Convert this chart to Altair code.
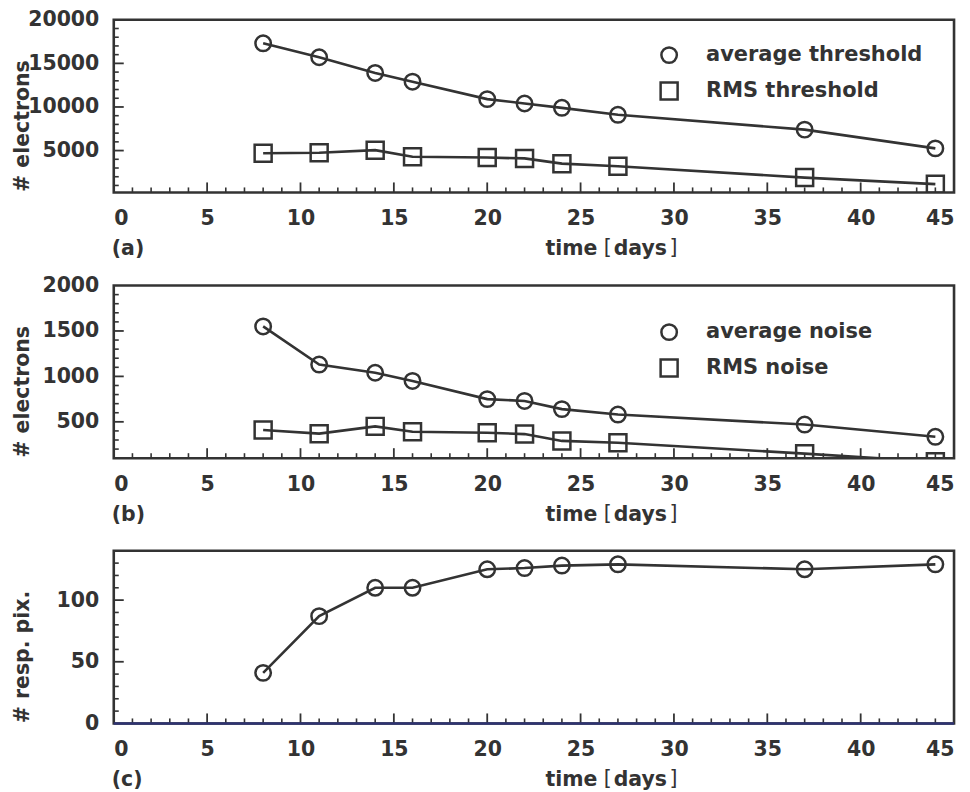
import altair as alt
import pandas as pd

# Measurement days
days = [8, 11, 14, 16, 20, 22, 24, 27, 37, 44]

# (a) discriminator threshold, electrons
avg_threshold = [17300, 15700, 13900, 12900, 10900, 10400, 9900, 9100, 7400, 5250]
rms_threshold = [4700, 4750, 5050, 4300, 4200, 4100, 3500, 3200, 1900, 1150]

# (b) noise, electrons
avg_noise = [1550, 1130, 1040, 950, 750, 730, 640, 580, 470, 335]
rms_noise = [410, 370, 450, 390, 380, 365, 290, 270, 150, 60]

# (c) number of responding pixels
resp_pix = [41, 87, 110, 110, 125, 126, 128, 129, 125, 129]

# Axis tick positions
x_labels = [0, 5, 10, 15, 20, 25, 30, 35, 40, 45]
x_major = [5, 10, 15, 20, 25, 30, 35, 40]
x_minor = [d for d in range(1, 45) if d % 5 != 0]

FONT = "DejaVu Sans"
INK = "#333333"
NAVY = "#2e3372"
FS = 20.5
W, H = 842, 173
MAJOR, MINOR = 10, 5
MARKERS = {"circle": 240, "square": 290}


def panel(names, columns, shapes, y_domain, y_labels, y_major, y_minor,
          y_title, tag, legend_top=None):
    x_enc = alt.X(
        "day:Q",
        scale=alt.Scale(domain=[0, 45], nice=False, zero=False),
        axis=alt.Axis(values=x_labels, title=None, labelFlush=True,
                      grid=False, domain=False, ticks=False, tickSize=0,
                      labelPadding=16),
    )
    y_enc = alt.Y(
        "value:Q",
        scale=alt.Scale(domain=y_domain, nice=False, zero=False),
        axis=alt.Axis(values=y_labels, format="d", title=y_title,
                      grid=False, domain=False, ticks=False, tickSize=0,
                      labelPadding=15, titleX=-91, titleY=106, titleAngle=270,
                      titleBaseline="middle", titleAlign="center"),
    )

    layers = []

    # inward ticks along the bottom edge
    layers.append(alt.Chart(pd.DataFrame({"day": x_major})).mark_rule(
        color=INK, strokeWidth=1.8).encode(
        x=x_enc, y=alt.value(H), y2=alt.value(H - MAJOR)))
    layers.append(alt.Chart(pd.DataFrame({"day": x_minor})).mark_rule(
        color=INK, strokeWidth=1.6).encode(
        x=x_enc, y=alt.value(H), y2=alt.value(H - MINOR)))

    # inward ticks along the left edge
    layers.append(alt.Chart(pd.DataFrame({"value": y_major})).mark_rule(
        color=INK, strokeWidth=1.8).encode(
        y=y_enc, x=alt.value(0), x2=alt.value(MAJOR)))
    layers.append(alt.Chart(pd.DataFrame({"value": y_minor})).mark_rule(
        color=INK, strokeWidth=1.6).encode(
        y=y_enc, x=alt.value(0), x2=alt.value(MINOR)))

    # one line + open markers per series
    for i, (name, vals, shape) in enumerate(zip(names, columns, shapes)):
        df = pd.DataFrame({"day": days, "value": vals, "series": name})
        layers.append(alt.Chart(df).mark_line(
            color=INK, strokeWidth=2.6, clip=True).encode(x=x_enc, y=y_enc))
        layers.append(alt.Chart(df).mark_point(
            shape=shape, size=MARKERS[shape], filled=False, color=INK,
            strokeWidth=2.5, opacity=1, clip=True).encode(x=x_enc, y=y_enc))

        # legend entry
        if legend_top is not None:
            ly = legend_top + i * 36
            key = pd.DataFrame({"series": [name]})
            layers.append(alt.Chart(key).mark_point(
                shape=shape, size=MARKERS[shape], filled=False, color=INK,
                strokeWidth=2.5, opacity=1).encode(
                x=alt.value(556.5), y=alt.value(ly)))
            layers.append(alt.Chart(key).mark_text(
                align="left", baseline="middle", font=FONT, fontSize=21,
                fontWeight="bold", color=INK).encode(
                text="series:N", x=alt.value(593.5), y=alt.value(ly)))

    # panel tag and x title: bold words, light brackets
    words = pd.DataFrame({"txt": [tag, "time", "days"],
                          "px": [-2, 432.5, 501]})
    layers.append(alt.Chart(words).mark_text(
        align="left", baseline="middle", font=FONT, fontSize=FS,
        fontWeight="bold", color=INK).encode(
        text="txt:N", x=alt.X("px:Q", scale=None), y=alt.value(230)))
    brackets = pd.DataFrame({"txt": ["[", "]"], "px": [491, 557]})
    layers.append(alt.Chart(brackets).mark_text(
        align="left", baseline="middle", font=FONT, fontSize=FS,
        fontWeight="normal", color=INK).encode(
        text="txt:N", x=alt.X("px:Q", scale=None), y=alt.value(229)))

    if y_domain[0] == 0:
        layers.append(alt.Chart(pd.DataFrame({"value": [0]})).mark_rule(
            color=NAVY, strokeWidth=2.6).encode(
            y=y_enc, x=alt.value(0), x2=alt.value(W)))

    return alt.layer(*layers).properties(width=W, height=H)


panel_a = panel(
    ["average threshold", "RMS threshold"], [avg_threshold, rms_threshold],
    ["circle", "square"],
    [200, 20000], [5000, 10000, 15000, 20000], [5000, 10000, 15000],
    [v for v in range(1000, 20000, 1000) if v % 5000 != 0],
    "# electrons", "(a)", legend_top=35.4,
)

panel_b = panel(
    ["average noise", "RMS noise"], [avg_noise, rms_noise],
    ["circle", "square"],
    [100, 2000], [500, 1000, 1500, 2000], [500, 1000, 1500],
    [v for v in range(200, 2000, 100) if v % 500 != 0],
    "# electrons", "(b)", legend_top=46.7,
)

panel_c = panel(
    ["responding pixels"], [resp_pix],
    ["circle"],
    [0, 140], [0, 50, 100], [50, 100],
    [v for v in range(10, 140, 10) if v % 50 != 0],
    "# resp. pix.", "(c)",
)

chart = (
    alt.vconcat(alt.vconcat(panel_a, panel_b, spacing=12.3), panel_c,
                spacing=21.1)
    .properties(padding={"left": 11, "top": 7, "right": 13, "bottom": 4},
                background="white")
    .configure_view(stroke=INK, strokeWidth=2.6)
    .configure_axis(labelFont=FONT, labelFontSize=FS, labelFontWeight="bold",
                    labelColor=INK, titleFont=FONT, titleFontSize=FS,
                    titleFontWeight="bold", titleColor=INK)
)

chart.save("out.html", embed_options={"renderer": "svg", "actions": False})
